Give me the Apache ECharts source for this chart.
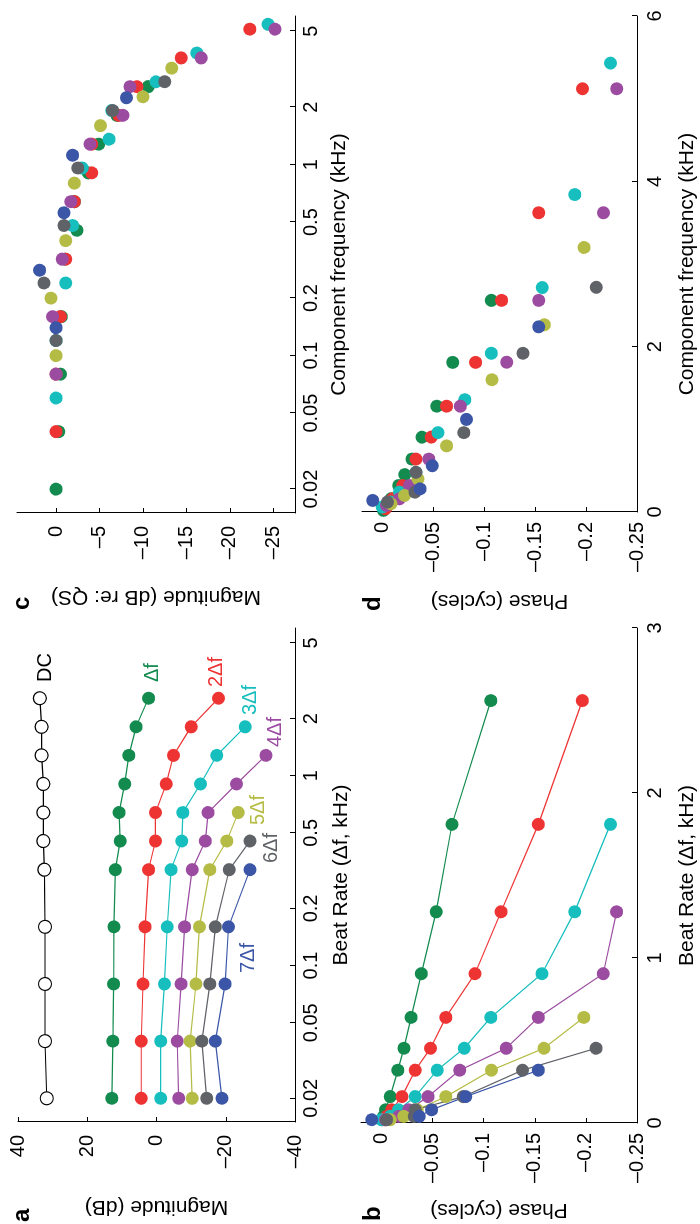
<!DOCTYPE html>
<html>
<head>
<meta charset="utf-8">
<script src="https://cdn.jsdelivr.net/npm/echarts@6/dist/echarts.min.js"></script>
<style>
  html, body { margin: 0; width: 700px; height: 1224px; overflow: hidden; background: #fff; }
  /* the figure is laid out landscape and turned a quarter turn, like the reference */
  #fig {
    position: absolute; left: 0; top: 0;
    width: 1224px; height: 700px;
    transform-origin: 0 0;
    transform: translate(0px, 1224px) rotate(-90deg);
  }
</style>
</head>
<body>
<div id="fig"></div>
<script>
// beat rates (kHz)
const beatRate = [0.02, 0.04, 0.08, 0.16, 0.32, 0.453, 0.64, 0.905, 1.28, 1.81, 2.56];

// panel a: magnitude (dB)
const magDC  = [31.7, 32.2, 32.2, 32.2, 32.4, 32.7, 32.7, 32.7, 33.2, 33.2, 33.7];
const mag1 = [12.9, 12.6, 12.4, 12.3, 11.9, 10.5, 10.8, 9.2, 8.0, 5.9, 2.3];
const mag2 = [4.4, 4.4, 3.9, 3.3, 2.3, 0.3, 0.3, -2.8, -4.9, -10.0, -17.9];
const mag3 = [-1.2, -1.2, -2.3, -3.1, -4.2, -7.3, -7.6, -12.7, -17.4, -25.6];
const mag4 = [-6.4, -6.0, -7.1, -8.1, -10.3, -14.1, -14.9, -23.1, -31.6];
const mag5 = [-10.3, -9.7, -11.4, -12.4, -15.4, -20.3, -23.6];
const mag6 = [-14.5, -13.1, -15.4, -17.0, -21.0, -27.0];
const mag7 = [-18.9, -17.0, -19.8, -20.8, -27.0];

// panel b: phase (cycles)
const phase1 = [-0.001, -0.002, -0.004, -0.0085, -0.016, -0.022, -0.029, -0.039, -0.0535, -0.069, -0.107];
const phase2 = [-0.003, -0.005, -0.010, -0.020, -0.033, -0.048, -0.063, -0.0915, -0.117, -0.1535, -0.1965];
const phase3 = [0.000, -0.0085, -0.0167, -0.033, -0.0545, -0.081, -0.107, -0.157, -0.189, -0.224];
const phase4 = [-0.004, -0.0167, -0.0266, -0.0456, -0.0765, -0.122, -0.1535, -0.217, -0.230];
const phase5 = [-0.0085, -0.0217, -0.035, -0.063, -0.1076, -0.159, -0.198];
const phase6 = [-0.005, -0.032, -0.033, -0.080, -0.138, -0.210];
const phase7 = [0.0095, -0.037, -0.049, -0.0825, -0.1535];

const harmonicNames = ['\u0394f', '2\u0394f', '3\u0394f', '4\u0394f', '5\u0394f', '6\u0394f', '7\u0394f'];
const colors = ['#138b4f', '#ee3333', '#17bebe', '#9b4ca0', '#b5bc45', '#5f6267', '#3b56a7'];
const mags = [mag1, mag2, mag3, mag4, mag5, mag6, mag7];
const phases = [phase1, phase2, phase3, phase4, phase5, phase6, phase7];

// tick labels
const logTicks = [0.02, 0.05, 0.1, 0.2, 0.5, 1, 2, 5];
const phaseTicks = [0, -0.05, -0.1, -0.15, -0.2, -0.25];
const relMagTicks = [0, -5, -10, -15, -20, -25];

const FONT = 'Liberation Sans';

function fmt(v) {
  return String(+(+v).toFixed(3)).replace('-', '\u2013');
}

function axis(o) {
  const a = {
    gridIndex: o.grid,
    type: o.type || 'value',
    min: o.min, max: o.max,
    name: o.name, nameLocation: 'middle', nameGap: o.gap,
    nameRotate: o.rotate,
    nameTextStyle: { color: '#000', fontSize: 21, fontFamily: FONT },
    axisLine: { show: true, onZero: false, lineStyle: { color: '#000', width: 1 } },
    axisTick: { show: true, inside: true, length: 5, lineStyle: { color: '#000', width: 1 } },
    splitLine: { show: false },
    minorTick: { show: false },
    axisLabel: { color: '#000', fontSize: 20, fontFamily: FONT, margin: o.margin, formatter: fmt }
  };
  if (o.interval != null) a.interval = o.interval;
  if (o.ticks) {
    a.axisLabel.customValues = o.ticks;
    a.axisTick.customValues = o.ticks;
  }
  if (a.type === 'log') a.logBase = 10;
  return a;
}

const series = [];

// a: DC
series.push({
  type: 'line', xAxisIndex: 0, yAxisIndex: 0,
  data: beatRate.map((f, i) => [f, magDC[i]]),
  symbol: 'circle', symbolSize: 13,
  lineStyle: { color: '#000', width: 1.2 },
  itemStyle: { color: '#fff', borderColor: '#000', borderWidth: 1.2 }
});

harmonicNames.forEach((nm, k) => {
  const c = colors[k];
  // a: magnitude vs beat rate
  series.push({
    type: 'line', name: nm, xAxisIndex: 0, yAxisIndex: 0,
    data: mags[k].map((m, i) => [beatRate[i], m]),
    symbol: 'circle', symbolSize: 13,
    lineStyle: { color: c, width: 1.2 }, itemStyle: { color: c }
  });
  // b: phase vs beat rate
  series.push({
    type: 'line', name: nm, xAxisIndex: 1, yAxisIndex: 1,
    data: phases[k].map((p, i) => [beatRate[i], p]),
    symbol: 'circle', symbolSize: 13,
    lineStyle: { color: c, width: 1.2 }, itemStyle: { color: c }
  });
});

// c and d: same measurements at component frequency (k * beat rate),
// magnitude taken relative to the lowest-rate (quasi-static) value
harmonicNames.forEach((nm, k) => {
  const c = colors[k];
  const h = k + 1;
  series.push({
    type: 'scatter', name: nm, xAxisIndex: 2, yAxisIndex: 2,
    data: mags[k].map((m, i) => [h * beatRate[i], m - mags[k][0]]),
    symbol: 'circle', symbolSize: 13, itemStyle: { color: c, opacity: 1 }
  });
  series.push({
    type: 'scatter', name: nm, xAxisIndex: 3, yAxisIndex: 3,
    data: phases[k].map((p, i) => [h * beatRate[i], p]),
    symbol: 'circle', symbolSize: 13, itemStyle: { color: c, opacity: 1 }
  });
});

function txt(x, y, s, color, size, bold) {
  return {
    type: 'text', x: x, y: y, silent: true,
    style: {
      text: s, fill: color, fontSize: size, fontFamily: FONT,
      fontWeight: bold ? 'bold' : 'normal', align: 'left', verticalAlign: 'middle'
    }
  };
}

const labelPos = [[542, 152], [537, 216], [509, 250], [477, 275], [399, 258], [361, 271], [251, 248]];

const graphic = [
  txt(2, 22, 'a', '#000', 24, true),
  txt(3, 373, 'b', '#000', 24, true),
  txt(614, 22, 'c', '#000', 24, true),
  txt(613, 373, 'd', '#000', 24, true),
  txt(542, 45, 'DC', '#000', 20, false)
];
harmonicNames.forEach((nm, k) => graphic.push(txt(labelPos[k][0], labelPos[k][1], nm, colors[k], 20, false)));

const chart = echarts.init(document.getElementById('fig'), null, { width: 1224, height: 700 });
chart.setOption({
  animation: false,
  backgroundColor: '#fff',
  grid: [
    { left: 102, top: 18, width: 494, height: 277 },
    { left: 101, top: 361, width: 495, height: 276 },
    { left: 711, top: 17, width: 497, height: 278 },
    { left: 712, top: 362, width: 496, height: 275 }
  ],
  xAxis: [
    axis({ grid: 0, type: 'log', min: 0.015, max: 6, ticks: logTicks, name: 'Beat Rate (\u0394f, kHz)', gap: 36, margin: 6 }),
    axis({ grid: 1, min: 0, max: 3, interval: 1, name: 'Beat Rate (\u0394f, kHz)', gap: 40, margin: 8 }),
    axis({ grid: 2, type: 'log', min: 0.015, max: 6, ticks: logTicks, name: 'Component frequency (kHz)', gap: 34, margin: 6 }),
    axis({ grid: 3, min: 0, max: 6, interval: 2, name: 'Component frequency (kHz)', gap: 40, margin: 8 })
  ],
  yAxis: [
    axis({ grid: 0, min: -40, max: 40, interval: 20, name: 'Magnitude (dB)', gap: 74, rotate: 90, margin: 13 }),
    axis({ grid: 1, min: -0.25, max: 0.02, ticks: phaseTicks, name: 'Phase (cycles)', gap: 76, rotate: 90, margin: 10 }),
    axis({ grid: 2, min: -27.5, max: 4.5, ticks: relMagTicks, name: 'Magnitude (dB re: QS)', gap: 73, rotate: 90, margin: 13 }),
    axis({ grid: 3, min: -0.25, max: 0.02, ticks: phaseTicks, name: 'Phase (cycles)', gap: 78, rotate: 90, margin: 10 })
  ],
  series: series,
  graphic: graphic
});
</script>
</body>
</html>
